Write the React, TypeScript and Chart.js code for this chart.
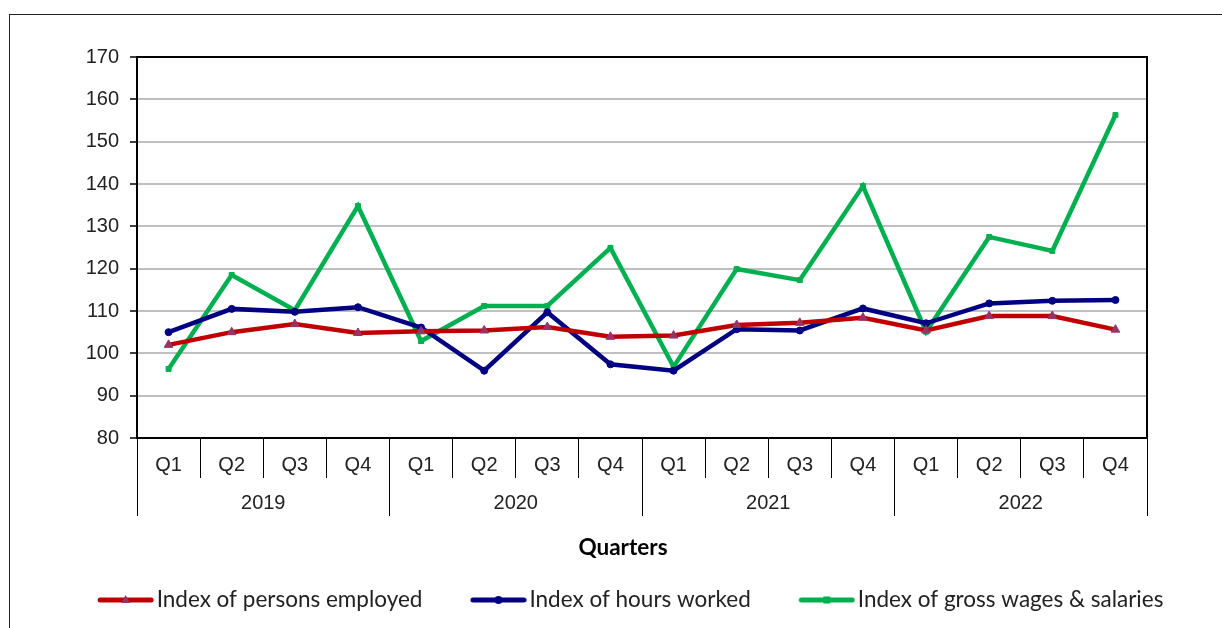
import React, { useEffect, useRef } from "react";
import { Chart, registerables } from "chart.js";

Chart.register(...registerables);

const quarterLabels = [
  "Q1", "Q2", "Q3", "Q4",
  "Q1", "Q2", "Q3", "Q4",
  "Q1", "Q2", "Q3", "Q4",
  "Q1", "Q2", "Q3", "Q4",
];
const yearLabels = ["2019", "2020", "2021", "2022"];

const personsEmployed = [102.0, 105.0, 106.9, 104.8, 105.2, 105.4, 106.2, 103.9, 104.2, 106.7, 107.2, 108.4, 105.4, 108.8, 108.8, 105.6];
const hoursWorked = [105.0, 110.5, 109.8, 110.9, 106.1, 95.9, 109.7, 97.4, 95.9, 105.7, 105.4, 110.6, 107.1, 111.8, 112.4, 112.6];
const grossWages = [96.3, 118.5, 110.2, 134.8, 102.9, 111.2, 111.2, 124.9, 96.8, 119.9, 117.3, 139.5, 105.1, 127.5, 124.2, 156.3];

const seriesNames = [
  "Index of persons employed",
  "Index of hours worked",
  "Index of gross wages & salaries",
];
const axisTitle = "Quarters";

const LEGEND_FONT = 22.5;
const LEGEND_PAD = 33;
const LEGEND_BOX = 62.75;
const ICON_LEAD = 15;
const ICON_LINE = 56;
const ICON_H = 16;

function makeIcon(lineColor: string, markerColor: string, marker: string) {
  const W = Math.ceil(2 * (ICON_LEAD + ICON_LINE - LEGEND_BOX / 2));
  const imgLeft = LEGEND_BOX / 2 - W / 2;
  const x1 = ICON_LEAD - imgLeft;
  const x2 = x1 + ICON_LINE;
  const c = document.createElement("canvas");
  c.width = W;
  c.height = ICON_H;
  const g = c.getContext("2d")!;
  const y = ICON_H / 2;
  g.strokeStyle = lineColor;
  g.lineWidth = 5;
  g.lineCap = "round";
  g.beginPath();
  g.moveTo(x1 + 2.5, y);
  g.lineTo(x2 - 2.5, y);
  g.stroke();
  const cx = (x1 + x2) / 2;
  g.fillStyle = markerColor;
  g.beginPath();
  if (marker === "triangle") {
    g.moveTo(cx, y - 5);
    g.lineTo(cx + 4.5, y + 3);
    g.lineTo(cx - 4.5, y + 3);
    g.closePath();
  } else if (marker === "circle") {
    g.arc(cx, y, 4, 0, Math.PI * 2);
  } else {
    g.rect(cx - 3.5, y - 3.5, 7, 7);
  }
  g.fill();
  return c;
}

const chartBorder = {
  id: "chartBorder",
  afterDraw(chart: any) {
    const { ctx, chartArea } = chart;
    ctx.save();
    ctx.strokeStyle = "#000";
    ctx.lineWidth = 2;
    ctx.strokeRect(chartArea.left, chartArea.top, chartArea.right - chartArea.left, chartArea.bottom - chartArea.top);
    ctx.restore();
  },
};

const tickFont = { family: "'Liberation Sans', Arial, sans-serif", size: 20 };

export default function App() {
  const ref = useRef<HTMLCanvasElement | null>(null);

  useEffect(() => {
    if (!ref.current) return;
    const icons = [
      makeIcon("#C00000", "#993366", "triangle"),
      makeIcon("#000080", "#000080", "circle"),
      makeIcon("#00B050", "#00B050", "rect"),
    ];
    const chart = new Chart(ref.current, {
      type: "line",
      data: {
        labels: quarterLabels,
        datasets: [
          {
            label: seriesNames[0],
            data: personsEmployed,
            borderColor: "#C00000",
            backgroundColor: "#993366",
            borderWidth: 4.5,
            pointStyle: "triangle",
            pointRadius: 5,
            pointBackgroundColor: "#993366",
            pointBorderColor: "#993366",
            pointBorderWidth: 1,
            tension: 0,
            xAxisID: "x",
            yAxisID: "y",
          },
          {
            label: seriesNames[1],
            data: hoursWorked,
            borderColor: "#000080",
            backgroundColor: "#000080",
            borderWidth: 4.5,
            pointStyle: "circle",
            pointRadius: 3.5,
            pointBorderWidth: 1,
            pointBackgroundColor: "#000080",
            pointBorderColor: "#000080",
            tension: 0,
            xAxisID: "x",
            yAxisID: "y",
          },
          {
            label: seriesNames[2],
            data: grossWages,
            borderColor: "#00B050",
            backgroundColor: "#00B050",
            borderWidth: 4.5,
            pointStyle: "rect",
            pointRadius: 3.5,
            pointBorderWidth: 1,
            pointBackgroundColor: "#00B050",
            pointBorderColor: "#00B050",
            tension: 0,
            xAxisID: "x",
            yAxisID: "y",
          },
        ],
      },
      options: {
        responsive: false,
        animation: false,
        layout: { padding: { left: 24, right: 0, top: 57, bottom: 6.75 } },
        scales: {
          x: {
            type: "category",
            position: "bottom",
            offset: true,
            weight: 0,
            afterFit: (s: any) => {
              s.height = 39;
            },
            grid: {
              display: true,
              offset: true,
              drawOnChartArea: false,
              drawTicks: true,
              tickLength: 40,
              tickColor: "#000",
              tickWidth: 1,
              color: "#000",
            },
            border: { display: false },
            ticks: {
              color: "#222",
              font: tickFont,
              mirror: true,
              padding: -39,
              maxRotation: 0,
              autoSkip: false,
            },
          },
          x2: {
            type: "category",
            position: "bottom",
            labels: yearLabels,
            offset: true,
            weight: 1,
            afterFit: (s: any) => {
              s.height = 38;
            },
            grid: {
              display: true,
              offset: true,
              drawOnChartArea: false,
              drawTicks: true,
              tickLength: 39,
              tickColor: "#000",
              tickWidth: 1,
              color: "#000",
            },
            border: { display: false },
            ticks: {
              color: "#222",
              font: tickFont,
              mirror: true,
              padding: -38,
              maxRotation: 0,
              autoSkip: false,
            },
          },
          y: {
            position: "left",
            min: 80,
            max: 170,
            afterFit: (s: any) => {
              s.width = 113;
            },
            grid: {
              color: "#C0C0C0",
              lineWidth: 2,
              tickColor: "#000",
              tickLength: 7,
              tickWidth: 1.5,
            },
            border: { display: false },
            ticks: {
              stepSize: 10,
              color: "#222",
              padding: 11,
              font: tickFont,
            },
          },
          yRight: {
            position: "right",
            display: true,
            afterFit: (s: any) => {
              s.width = 75;
            },
            grid: { display: false, drawTicks: false },
            border: { display: false },
            ticks: { display: false },
          },
        },
        plugins: {
          tooltip: { enabled: false },
          title: {
            display: true,
            text: axisTitle,
            position: "bottom",
            weight: 500,
            color: "#000",
            font: { family: "Lato, 'Open Sans', sans-serif", size: 22.5, weight: "bold" },
            padding: { top: 19.5, bottom: -5.75 },
          },
          legend: {
            display: true,
            position: "bottom",
            labels: {
              usePointStyle: true,
              pointStyleWidth: LEGEND_BOX,
              padding: LEGEND_PAD,
              color: "#222",
              font: { family: "Lato, 'Open Sans', sans-serif", size: LEGEND_FONT },
              generateLabels: (ch: any) =>
                ch.data.datasets.map((ds: any, i: number) => ({
                  text: ds.label,
                  pointStyle: icons[i],
                  fillStyle: ds.borderColor,
                  strokeStyle: ds.borderColor,
                  lineWidth: 0,
                  hidden: false,
                  datasetIndex: i,
                  fontColor: "#222",
                })),
            },
          },
        },
      },
      plugins: [chartBorder],
    } as any);
    return () => chart.destroy();
  }, []);

  return (
    <div style={{ position: "fixed", left: 0, top: 0, width: 1222, height: 628, overflow: "hidden", background: "#fff" }}>
      <div
        style={{
          position: "absolute",
          left: 9,
          top: 14,
          width: 1400,
          height: 800,
          border: "1px solid #222",
        }}
      />
      <canvas
        ref={ref}
        width={1222}
        height={628}
        style={{ position: "absolute", left: 0, top: 0, width: 1222, height: 628 }}
      />
    </div>
  );
}
